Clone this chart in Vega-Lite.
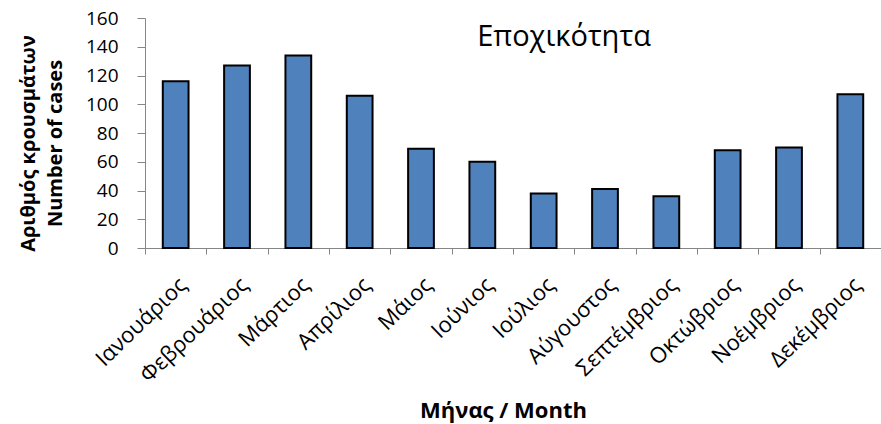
{
  "$schema": "https://vega.github.io/schema/vega-lite/v6.json",
  "width": 736,
  "height": 230,
  "autosize": {"type": "none"},
  "padding": {"left": 145, "top": 18, "right": 0, "bottom": 176},
  "background": "white",
  "title": {
    "text": "Εποχικότητα",
    "font": "Open Sans",
    "fontSize": 29,
    "fontWeight": "normal",
    "color": "black",
    "anchor": "middle",
    "frame": "group",
    "dx": 51,
    "dy": 47
  },
  "data": {
    "values": [
      {"month": "Ιανουάριος", "cases": 116},
      {"month": "Φεβρουάριος", "cases": 127},
      {"month": "Μάρτιος", "cases": 134},
      {"month": "Απρίλιος", "cases": 106},
      {"month": "Μάιος", "cases": 69},
      {"month": "Ιούνιος", "cases": 60},
      {"month": "Ιούλιος", "cases": 38},
      {"month": "Αύγουστος", "cases": 41},
      {"month": "Σεπτέμβριος", "cases": 36},
      {"month": "Οκτώβριος", "cases": 68},
      {"month": "Νοέμβριος", "cases": 70},
      {"month": "Δεκέμβριος", "cases": 107}
    ]
  },
  "mark": {
    "type": "bar",
    "fill": "#4F81BD",
    "stroke": "black",
    "strokeWidth": 2,
    "width": {"band": 0.42}
  },
  "encoding": {
    "x": {
      "field": "month",
      "type": "nominal",
      "sort": null,
      "scale": {"paddingInner": 0, "paddingOuter": 0},
      "axis": {
        "title": "Μήνας / Month",
        "titleFont": "Open Sans",
        "titleFontSize": 22,
        "titleFontWeight": "bold",
        "titleColor": "black",
        "titleX": 358,
        "titleY": 169,
        "titleBaseline": "alphabetic",
        "labelAngle": -44,
        "labelFont": "Open Sans",
        "labelFontSize": 22,
        "labelColor": "black",
        "labelPadding": 20,
        "labelOverlap": false,
        "tickBand": "extent",
        "tickSize": 6,
        "tickColor": "#868686",
        "domainColor": "#868686",
        "grid": false
      }
    },
    "y": {
      "field": "cases",
      "type": "quantitative",
      "scale": {"domain": [0, 160]},
      "axis": {
        "title": ["Αριθμός κρουσμάτων", "Number of cases"],
        "titleFont": "Open Sans",
        "titleFontSize": 20,
        "titleFontWeight": "bold",
        "titleColor": "black",
        "titleLineHeight": 27,
        "titlePadding": 20,
        "titleY": 125,
        "values": [0, 20, 40, 60, 80, 100, 120, 140, 160],
        "labelFont": "Open Sans",
        "labelFontSize": 19,
        "labelColor": "black",
        "labelPadding": 19,
        "tickSize": 8,
        "tickColor": "#868686",
        "domainColor": "#868686",
        "grid": false
      }
    }
  },
  "config": {"view": {"stroke": null}}
}
